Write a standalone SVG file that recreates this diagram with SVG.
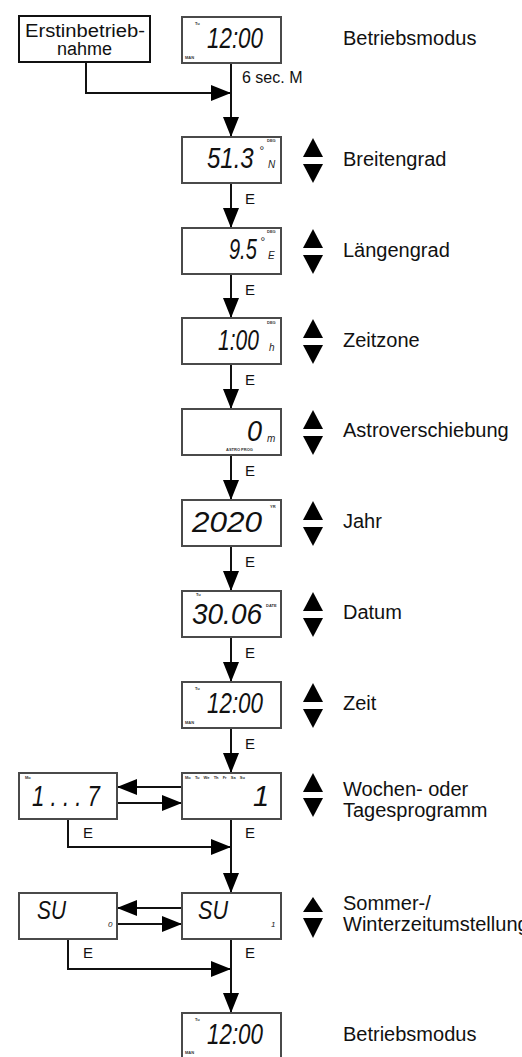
<svg xmlns="http://www.w3.org/2000/svg" width="522" height="1057" viewBox="0 0 522 1057">
<style>
.disp{fill:#fff;stroke:#4a4a4a;stroke-width:2}
.box{fill:#fff;stroke:#111;stroke-width:2}
.ln{fill:none;stroke:#111;stroke-width:2}
.tri{fill:#000}
.lbl{font-family:"Liberation Sans",Arial,sans-serif;font-size:20px;fill:#111}
.sm{font-family:"Liberation Sans",Arial,sans-serif;font-size:15px;fill:#111}
.lcd{font-family:"Liberation Sans",Arial,sans-serif;font-style:italic;font-size:29px;fill:#111}
.unit{font-family:"Liberation Sans",Arial,sans-serif;font-style:italic;font-size:10px;fill:#222}
.tiny{font-family:"Liberation Sans",Arial,sans-serif;font-size:4px;font-weight:bold;fill:#333}
</style>
<defs>
<marker id="ah" markerUnits="userSpaceOnUse" markerWidth="20" markerHeight="16" viewBox="0 0 20 16" refX="19" refY="8" orient="auto">
<path d="M0,0 L20,8 L0,16 z" fill="#000"/>
</marker>
</defs>

<g id="connectors">
<path class="ln" d="M86,62 V93 H230" marker-end="url(#ah)"/>
<path class="ln" d="M231,63 V136" marker-end="url(#ah)"/>
<path class="ln" d="M231,183 V227" marker-end="url(#ah)"/>
<path class="ln" d="M231,274 V317" marker-end="url(#ah)"/>
<path class="ln" d="M231,364 V408" marker-end="url(#ah)"/>
<path class="ln" d="M231,455 V499" marker-end="url(#ah)"/>
<path class="ln" d="M231,546 V590" marker-end="url(#ah)"/>
<path class="ln" d="M231,637 V681" marker-end="url(#ah)"/>
<path class="ln" d="M231,728 V772" marker-end="url(#ah)"/>
<path class="ln" d="M182,787 H118" marker-end="url(#ah)"/>
<path class="ln" d="M117,803 H181" marker-end="url(#ah)"/>
<path class="ln" d="M68,818 V847 H230" marker-end="url(#ah)"/>
<path class="ln" d="M231,818 V892" marker-end="url(#ah)"/>
<path class="ln" d="M182,908 H118" marker-end="url(#ah)"/>
<path class="ln" d="M117,924 H181" marker-end="url(#ah)"/>
<path class="ln" d="M68,938 V969 H230" marker-end="url(#ah)"/>
<path class="ln" d="M231,938 V1012" marker-end="url(#ah)"/>
<text class="sm" x="242" y="83" style="font-size:16px">6 sec. M</text>
<text class="sm" x="245" y="204">E</text>
<text class="sm" x="245" y="295">E</text>
<text class="sm" x="245" y="385">E</text>
<text class="sm" x="245" y="476">E</text>
<text class="sm" x="245" y="567">E</text>
<text class="sm" x="245" y="658">E</text>
<text class="sm" x="245" y="749">E</text>
<text class="sm" x="83" y="838">E</text>
<text class="sm" x="245" y="838">E</text>
<text class="sm" x="83" y="958">E</text>
<text class="sm" x="245" y="958">E</text>
</g>

<g id="erst">
<rect class="box" x="19" y="16" width="131" height="46"/>
<text class="lbl" x="25" y="37" textLength="120" lengthAdjust="spacingAndGlyphs" style="font-size:18px">Erstinbetrieb-</text>
<text class="lbl" x="84.5" y="55" text-anchor="middle" style="font-size:18px">nahme</text>
</g>

<g id="d0">
<rect class="disp" x="182" y="17" width="99" height="46"/>
<text class="tiny" x="195" y="25">Tu</text>
<text class="tiny" x="185" y="59">MAN</text>
<text class="lcd" x="207" y="48" textLength="56" lengthAdjust="spacingAndGlyphs">12:00</text>
<text class="lbl" x="343" y="45">Betriebsmodus</text>
</g>

<g id="d1">
<rect class="disp" x="182" y="137" width="99" height="46"/>
<text class="lcd" transform="translate(207,168) scale(1,1.21)" style="font-size:24px">51.3</text>
<text class="unit" x="259" y="155" style="font-size:12px">°</text>
<text class="tiny" x="267" y="142">DEG</text>
<text class="unit" x="268" y="168">N</text>
<polygon class="tri" points="303,157 323,157 313,138"/>
<polygon class="tri" points="303,164 323,164 313,183"/>
<text class="lbl" x="343" y="166">Breitengrad</text>
</g>

<g id="d2">
<rect class="disp" x="182" y="228" width="99" height="46"/>
<text class="lcd" transform="translate(229,259) scale(1,1.45)" style="font-size:20px">9.5</text>
<text class="unit" x="260" y="246" style="font-size:12px">°</text>
<text class="tiny" x="267" y="233">DEG</text>
<text class="unit" x="268" y="259">E</text>
<polygon class="tri" points="303,248 323,248 313,229"/>
<polygon class="tri" points="303,255 323,255 313,274"/>
<text class="lbl" x="343" y="257">Längengrad</text>
</g>

<g id="d3">
<rect class="disp" x="182" y="318" width="99" height="46"/>
<text class="lcd" transform="translate(218,350) scale(1,1.38)" style="font-size:21px">1:00</text>
<text class="tiny" x="267" y="324">DEG</text>
<text class="unit" x="269" y="351">h</text>
<polygon class="tri" points="303,338 323,338 313,319"/>
<polygon class="tri" points="303,345 323,345 313,364"/>
<text class="lbl" x="343" y="347">Zeitzone</text>
</g>

<g id="d4">
<rect class="disp" x="182" y="409" width="99" height="46"/>
<text class="lcd" x="247" y="441" textLength="15" lengthAdjust="spacingAndGlyphs">0</text>
<text class="unit" x="267" y="442">m</text>
<text class="tiny" x="226" y="451">ASTRO PROG</text>
<polygon class="tri" points="303,429 323,429 313,410"/>
<polygon class="tri" points="303,436 323,436 313,455"/>
<text class="lbl" x="343" y="437">Astroverschiebung</text>
</g>

<g id="d5">
<rect class="disp" x="182" y="500" width="99" height="46"/>
<text class="lcd" x="192" y="532" textLength="70" lengthAdjust="spacingAndGlyphs">2020</text>
<text class="tiny" x="270" y="508">YR</text>
<polygon class="tri" points="303,520 323,520 313,501"/>
<polygon class="tri" points="303,527 323,527 313,546"/>
<text class="lbl" x="343" y="528">Jahr</text>
</g>

<g id="d6">
<rect class="disp" x="182" y="591" width="99" height="46"/>
<text class="tiny" x="196" y="596">Tu</text>
<text class="lcd" x="192" y="624" textLength="70" lengthAdjust="spacingAndGlyphs">30.06</text>
<text class="tiny" x="266" y="607">DATE</text>
<polygon class="tri" points="303,611 323,611 313,592"/>
<polygon class="tri" points="303,618 323,618 313,637"/>
<text class="lbl" x="343" y="619">Datum</text>
</g>

<g id="d7">
<rect class="disp" x="182" y="682" width="99" height="46"/>
<text class="tiny" x="195" y="690">Tu</text>
<text class="tiny" x="185" y="724">MAN</text>
<text class="lcd" x="207" y="713" textLength="56" lengthAdjust="spacingAndGlyphs">12:00</text>
<polygon class="tri" points="303,702 323,702 313,683"/>
<polygon class="tri" points="303,709 323,709 313,728"/>
<text class="lbl" x="343" y="710">Zeit</text>
</g>

<g id="d8">
<rect class="disp" x="182" y="773" width="99" height="46"/>
<text class="tiny" x="185" y="779" style="word-spacing:3px">Mo Tu We Th Fr Sa Su</text>
<text class="lcd" x="253" y="806">1</text>
<polygon class="tri" points="303,792 323,792 313,773"/>
<polygon class="tri" points="303,798 323,798 313,817"/>
<text class="lbl" x="343" y="796">Wochen- oder</text>
<text class="lbl" x="343" y="817">Tagesprogramm</text>
</g>

<g id="d8l">
<rect class="disp" x="19" y="773" width="98" height="46"/>
<text class="tiny" x="25" y="779">Mo</text>
<text class="lcd" x="32" y="806" textLength="68" lengthAdjust="spacingAndGlyphs">1 . . . 7</text>
</g>

<g id="d9">
<rect class="disp" x="182" y="893" width="99" height="46"/>
<text class="lcd" x="198" y="919" textLength="30" lengthAdjust="spacingAndGlyphs" style="font-size:25px">SU</text>
<text class="unit" x="271" y="927" style="font-size:8px">1</text>
<polygon class="tri" points="303,912 323,912 313,897"/>
<polygon class="tri" points="303,918 323,918 313,938"/>
<text class="lbl" x="343" y="910">Sommer-/</text>
<text class="lbl" x="343" y="931">Winterzeitumstellung</text>
</g>

<g id="d9l">
<rect class="disp" x="19" y="893" width="98" height="46"/>
<text class="lcd" x="37" y="919" textLength="29" lengthAdjust="spacingAndGlyphs" style="font-size:25px">SU</text>
<text class="unit" x="108" y="927" style="font-size:8px">0</text>
</g>

<g id="d10">
<rect class="disp" x="182" y="1013" width="99" height="46"/>
<text class="tiny" x="195" y="1021">Tu</text>
<text class="tiny" x="185" y="1054">MAN</text>
<text class="lcd" x="207" y="1044" textLength="56" lengthAdjust="spacingAndGlyphs">12:00</text>
<text class="lbl" x="343" y="1041">Betriebsmodus</text>
</g>
</svg>
